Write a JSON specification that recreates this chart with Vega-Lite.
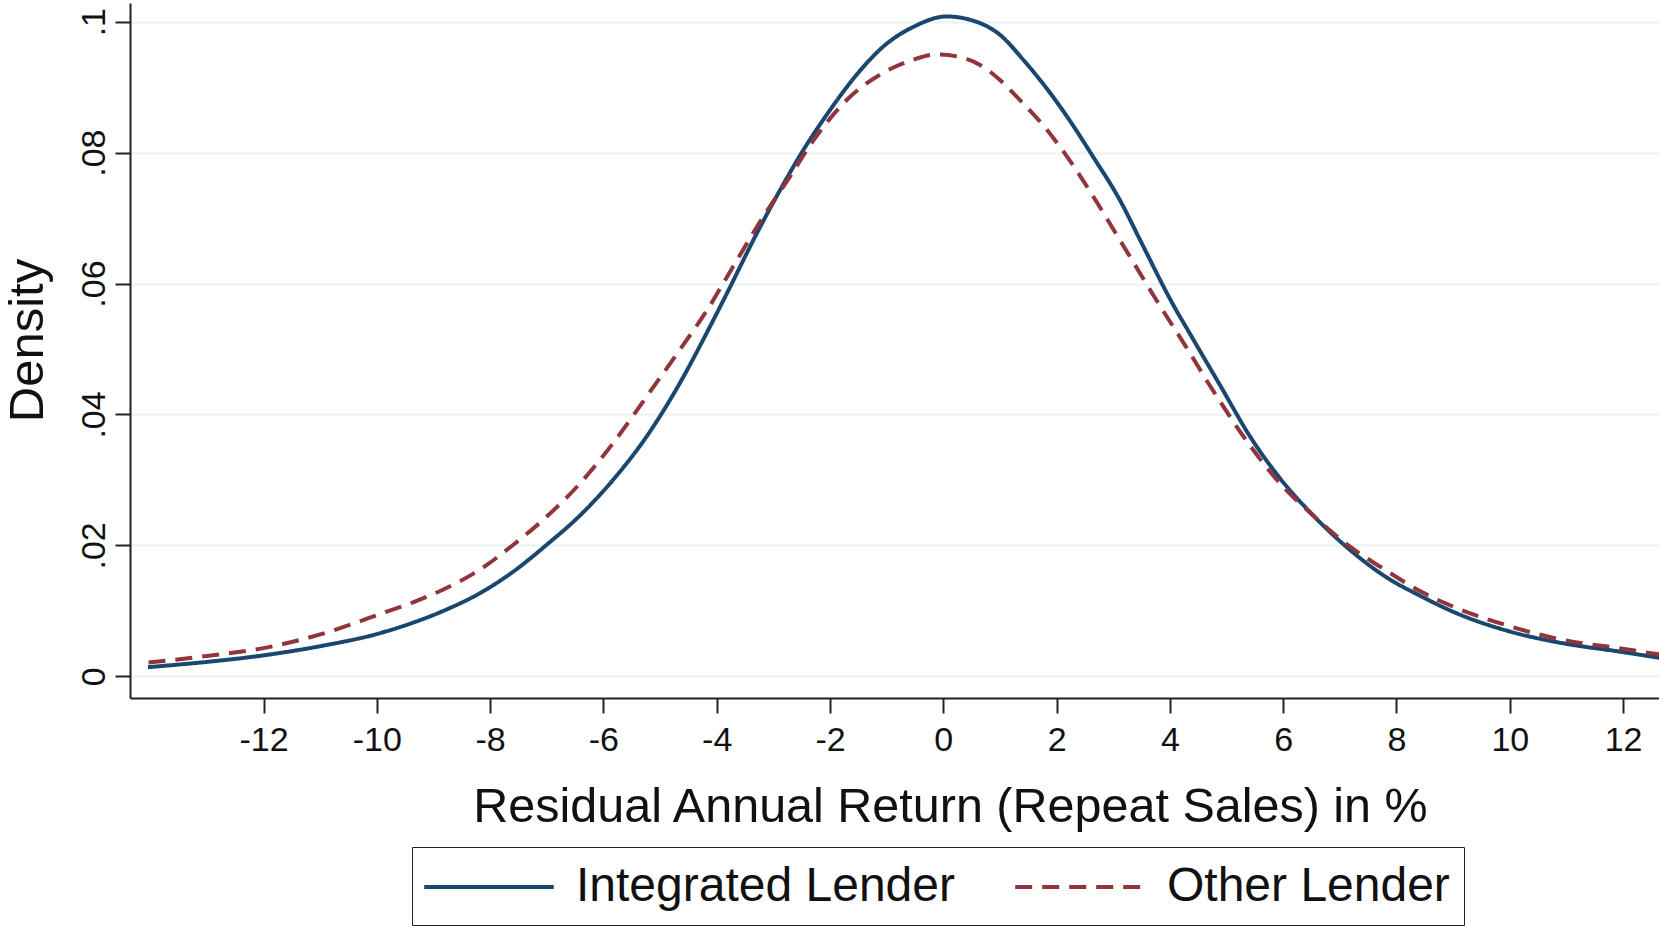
{
  "$schema": "https://vega.github.io/schema/vega-lite/v6.json",
  "width": 1529,
  "height": 695,
  "autosize": {"type": "none"},
  "padding": {"left": 130, "top": 3, "right": 0, "bottom": 228},
  "background": "white",
  "config": {"font": "Liberation Sans", "view": {"stroke": null}},
  "data": {"values": [
    {"g": "Integrated Lender", "x": -14.04, "y": 0.0014},
    {"g": "Integrated Lender", "x": -13.0, "y": 0.0022},
    {"g": "Integrated Lender", "x": -12.0, "y": 0.0032},
    {"g": "Integrated Lender", "x": -11.0, "y": 0.0046},
    {"g": "Integrated Lender", "x": -9.94, "y": 0.0066},
    {"g": "Integrated Lender", "x": -9.36, "y": 0.0082},
    {"g": "Integrated Lender", "x": -8.77, "y": 0.0102},
    {"g": "Integrated Lender", "x": -8.18, "y": 0.0127},
    {"g": "Integrated Lender", "x": -7.59, "y": 0.016},
    {"g": "Integrated Lender", "x": -7.0, "y": 0.0201},
    {"g": "Integrated Lender", "x": -6.41, "y": 0.0246},
    {"g": "Integrated Lender", "x": -5.83, "y": 0.03},
    {"g": "Integrated Lender", "x": -5.24, "y": 0.0366},
    {"g": "Integrated Lender", "x": -4.65, "y": 0.0448},
    {"g": "Integrated Lender", "x": -4.15, "y": 0.0529},
    {"g": "Integrated Lender", "x": -3.82, "y": 0.0585},
    {"g": "Integrated Lender", "x": -3.29, "y": 0.0677},
    {"g": "Integrated Lender", "x": -2.88, "y": 0.0743},
    {"g": "Integrated Lender", "x": -2.47, "y": 0.0804},
    {"g": "Integrated Lender", "x": -2.0, "y": 0.0865},
    {"g": "Integrated Lender", "x": -1.53, "y": 0.0919},
    {"g": "Integrated Lender", "x": -1.06, "y": 0.0962},
    {"g": "Integrated Lender", "x": -0.53, "y": 0.0992},
    {"g": "Integrated Lender", "x": 0.06, "y": 0.1008},
    {"g": "Integrated Lender", "x": 0.47, "y": 0.1003},
    {"g": "Integrated Lender", "x": 1.0, "y": 0.098},
    {"g": "Integrated Lender", "x": 1.42, "y": 0.0941},
    {"g": "Integrated Lender", "x": 1.93, "y": 0.0886},
    {"g": "Integrated Lender", "x": 2.24, "y": 0.0848},
    {"g": "Integrated Lender", "x": 2.62, "y": 0.0797},
    {"g": "Integrated Lender", "x": 3.12, "y": 0.0727},
    {"g": "Integrated Lender", "x": 3.5, "y": 0.0662},
    {"g": "Integrated Lender", "x": 4.03, "y": 0.0572},
    {"g": "Integrated Lender", "x": 4.41, "y": 0.0515},
    {"g": "Integrated Lender", "x": 4.91, "y": 0.0441},
    {"g": "Integrated Lender", "x": 5.41, "y": 0.0367},
    {"g": "Integrated Lender", "x": 5.92, "y": 0.0305},
    {"g": "Integrated Lender", "x": 6.55, "y": 0.0244},
    {"g": "Integrated Lender", "x": 7.18, "y": 0.0193},
    {"g": "Integrated Lender", "x": 7.81, "y": 0.0152},
    {"g": "Integrated Lender", "x": 8.44, "y": 0.0122},
    {"g": "Integrated Lender", "x": 9.07, "y": 0.0096},
    {"g": "Integrated Lender", "x": 10.02, "y": 0.0068},
    {"g": "Integrated Lender", "x": 10.97, "y": 0.005},
    {"g": "Integrated Lender", "x": 11.92, "y": 0.0038},
    {"g": "Integrated Lender", "x": 12.66, "y": 0.0028},
    {"g": "Other Lender", "x": -14.03, "y": 0.0021},
    {"g": "Other Lender", "x": -13.0, "y": 0.0031},
    {"g": "Other Lender", "x": -12.0, "y": 0.0043},
    {"g": "Other Lender", "x": -11.0, "y": 0.0064},
    {"g": "Other Lender", "x": -9.88, "y": 0.0097},
    {"g": "Other Lender", "x": -9.36, "y": 0.0113},
    {"g": "Other Lender", "x": -8.77, "y": 0.0135},
    {"g": "Other Lender", "x": -8.18, "y": 0.0163},
    {"g": "Other Lender", "x": -7.59, "y": 0.0201},
    {"g": "Other Lender", "x": -7.0, "y": 0.0244},
    {"g": "Other Lender", "x": -6.41, "y": 0.0295},
    {"g": "Other Lender", "x": -5.83, "y": 0.0356},
    {"g": "Other Lender", "x": -5.24, "y": 0.0427},
    {"g": "Other Lender", "x": -4.65, "y": 0.0499},
    {"g": "Other Lender", "x": -4.18, "y": 0.0558},
    {"g": "Other Lender", "x": -3.71, "y": 0.0626},
    {"g": "Other Lender", "x": -3.18, "y": 0.0702},
    {"g": "Other Lender", "x": -2.71, "y": 0.0763},
    {"g": "Other Lender", "x": -2.29, "y": 0.0819},
    {"g": "Other Lender", "x": -1.71, "y": 0.088},
    {"g": "Other Lender", "x": -1.12, "y": 0.0919},
    {"g": "Other Lender", "x": -0.53, "y": 0.0942},
    {"g": "Other Lender", "x": -0.12, "y": 0.095},
    {"g": "Other Lender", "x": 0.24, "y": 0.0947},
    {"g": "Other Lender", "x": 0.65, "y": 0.0934},
    {"g": "Other Lender", "x": 1.0, "y": 0.0911},
    {"g": "Other Lender", "x": 1.3, "y": 0.0885},
    {"g": "Other Lender", "x": 1.8, "y": 0.0838},
    {"g": "Other Lender", "x": 2.24, "y": 0.0787},
    {"g": "Other Lender", "x": 2.69, "y": 0.0727},
    {"g": "Other Lender", "x": 3.12, "y": 0.0666},
    {"g": "Other Lender", "x": 3.81, "y": 0.0568},
    {"g": "Other Lender", "x": 4.28, "y": 0.0504},
    {"g": "Other Lender", "x": 4.78, "y": 0.0434},
    {"g": "Other Lender", "x": 5.41, "y": 0.0353},
    {"g": "Other Lender", "x": 5.92, "y": 0.0297},
    {"g": "Other Lender", "x": 6.55, "y": 0.0244},
    {"g": "Other Lender", "x": 7.18, "y": 0.0198},
    {"g": "Other Lender", "x": 7.81, "y": 0.0162},
    {"g": "Other Lender", "x": 8.44, "y": 0.0129},
    {"g": "Other Lender", "x": 9.07, "y": 0.0104},
    {"g": "Other Lender", "x": 10.02, "y": 0.0076},
    {"g": "Other Lender", "x": 10.97, "y": 0.0055},
    {"g": "Other Lender", "x": 11.92, "y": 0.0043},
    {"g": "Other Lender", "x": 12.66, "y": 0.0033}
  ]},
  "mark": {"type": "line", "strokeWidth": 4, "interpolate": "monotone", "clip": true},
  "encoding": {
    "x": {
      "field": "x", "type": "quantitative",
      "scale": {"domain": [-14.357, 12.634], "nice": false, "zero": false},
      "axis": {
        "values": [-12, -10, -8, -6, -4, -2, 0, 2, 4, 6, 8, 10, 12],
        "labelExpr": "'' + datum.value",
        "title": "Residual Annual Return (Repeat Sales) in %",
        "grid": false,
        "domainColor": "#222", "domainWidth": 2,
        "tickColor": "#222", "tickWidth": 2, "tickSize": 15,
        "labelFontSize": 34, "labelColor": "#111", "labelBaseline": "alphabetic",
        "labelPadding": 37, "labelFlush": false, "labelOverlap": false,
        "titleFontSize": 48.5, "titleFontWeight": "normal", "titleColor": "#111",
        "titleX": 820, "titleY": 123, "titleBaseline": "alphabetic", "titleAlign": "center"
      }
    },
    "y": {
      "field": "y", "type": "quantitative",
      "scale": {"domain": [-0.003315, 0.102857], "nice": false, "zero": false},
      "axis": {
        "values": [0, 0.02, 0.04, 0.06, 0.08, 0.1],
        "title": "Density",
        "grid": true, "gridColor": "#eaf2f3", "gridWidth": 2,
        "labelExpr": "datum.value == 0 ? '0' : substring(format(datum.value, '.2~f'), 1)",
        "labelAngle": -90, "labelAlign": "center", "labelBaseline": "alphabetic",
        "labelPadding": 11, "labelFontSize": 34, "labelColor": "#111",
        "labelOverlap": false, "labelFlush": false,
        "domainColor": "#222", "domainWidth": 2,
        "tickColor": "#222", "tickWidth": 2, "tickSize": 15,
        "titleFontSize": 49, "titleFontWeight": "normal", "titleColor": "#111",
        "titleAngle": -90, "titleX": -88, "titleY": 337,
        "titleBaseline": "alphabetic", "titleAlign": "center"
      }
    },
    "color": {
      "field": "g", "type": "nominal",
      "scale": {"domain": ["Integrated Lender", "Other Lender"], "range": ["#1a476f", "#90353b"]},
      "legend": {
        "title": null, "orient": "none", "legendX": 282, "legendY": 844,
        "direction": "horizontal", "columns": 2,
        "symbolType": "M-2.7,0L2.7,0", "symbolSize": 2304, "symbolStrokeWidth": 4,
        "symbolOffset": 37,
        "labelFontSize": 48, "labelColor": "#111", "labelOffset": 61, "labelLimit": 0,
        "columnPadding": 52, "padding": 14,
        "strokeColor": "#222", "fillColor": "white"
      }
    },
    "strokeDash": {
      "field": "g", "type": "nominal",
      "scale": {"domain": ["Integrated Lender", "Other Lender"], "range": [[1, 0], [17, 10]]},
      "legend": {
        "title": null, "orient": "none", "legendX": 282, "legendY": 844,
        "direction": "horizontal", "columns": 2,
        "symbolType": "M-2.7,0L2.7,0", "symbolSize": 2304, "symbolStrokeWidth": 4,
        "symbolOffset": 37,
        "labelFontSize": 48, "labelColor": "#111", "labelOffset": 61, "labelLimit": 0,
        "columnPadding": 52, "padding": 14,
        "strokeColor": "#222", "fillColor": "white"
      }
    }
  }
}
